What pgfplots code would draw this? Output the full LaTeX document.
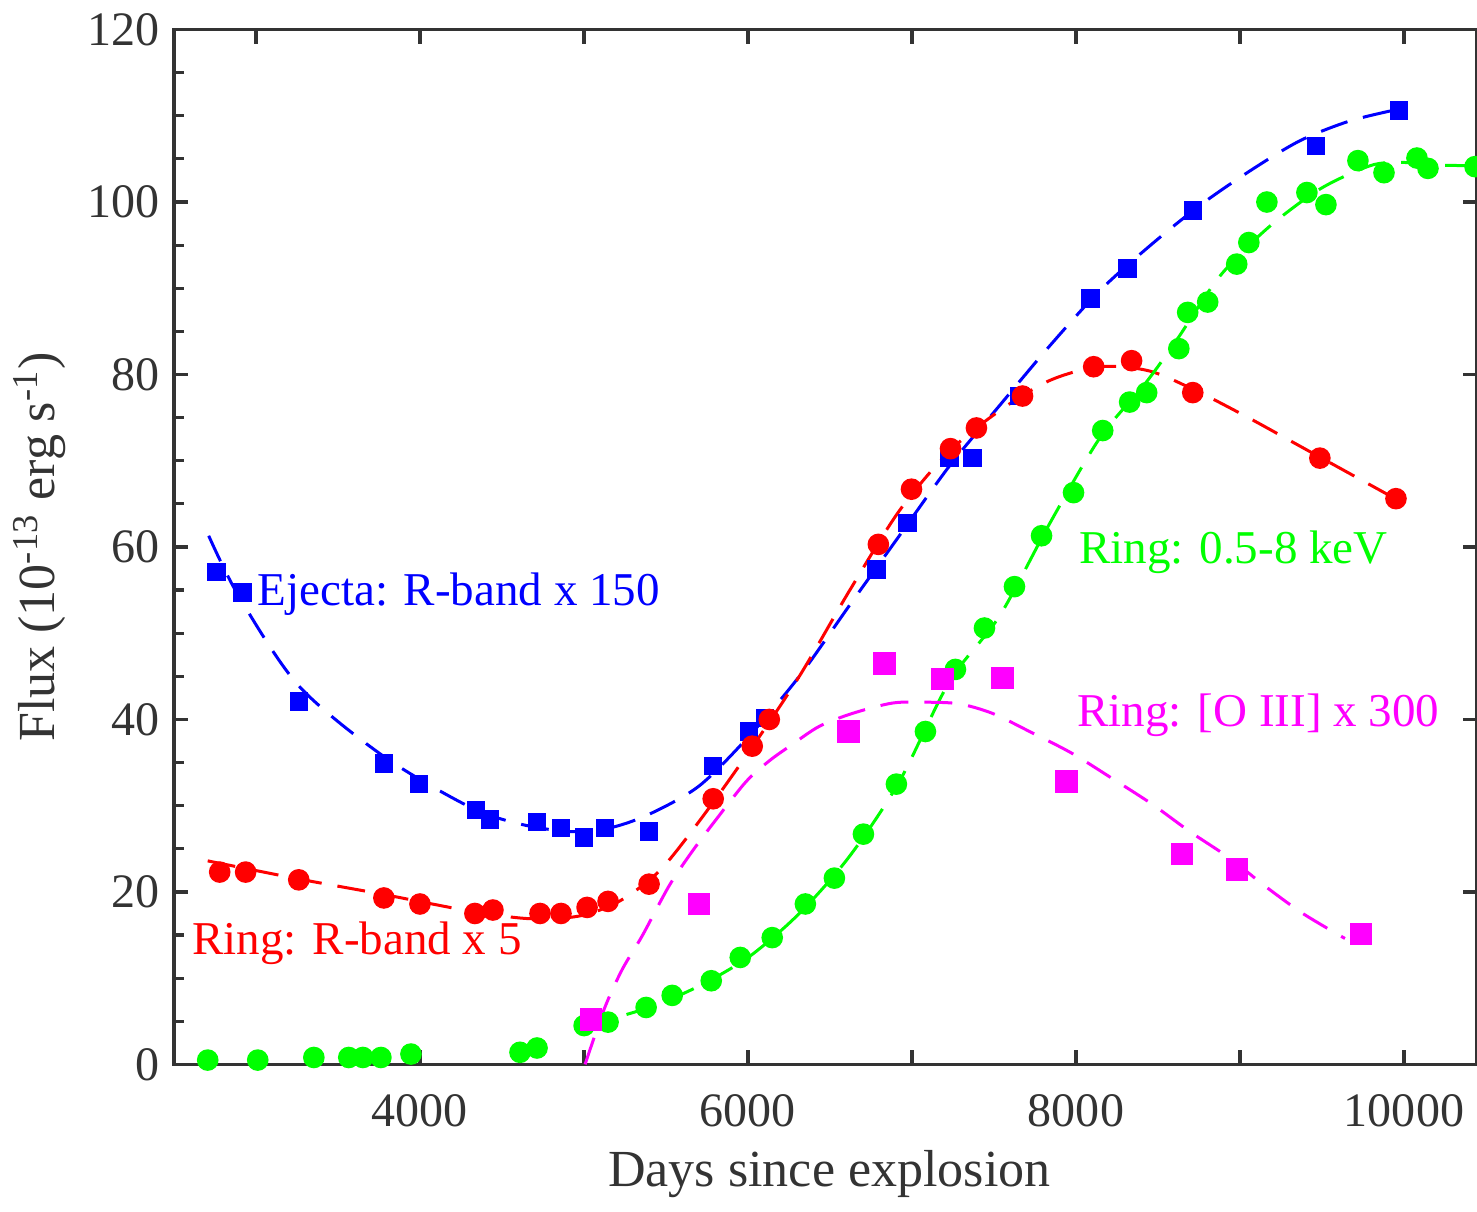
\documentclass[border=0pt]{standalone}
\usepackage{fontspec}
\setmainfont{Liberation Serif}
\usepackage{pgfplots}
\pgfplotsset{compat=1.18}

\definecolor{axgray}{HTML}{333333}
\definecolor{mag}{RGB}{255,0,255}
\definecolor{grn}{RGB}{0,255,0}

\begin{document}
\begin{tikzpicture}[trim axis right]
\begin{axis}[
    width=325.5pt, height=258.5pt, scale only axis,
    xmin=2500, xmax=10445, ymin=0, ymax=120,
    axis line style={axgray, line width=0.9pt},
    every tick/.style={axgray, line width=0.8pt},
    tick align=inside,
    major tick length=3.6pt, minor tick length=2.4pt,
    scaled ticks=false,
    xtick={3000,4000,...,10000},
    xticklabels={,4000,,6000,,8000,,10000},
    ytick={0,20,...,120},
    minor y tick num=3,
    ytick pos=left, xtick pos=both,
    tick label style={font=\fontsize{12}{14}\selectfont, text=axgray},
    /pgf/number format/assume math mode=true,
    xticklabel style={anchor=base, yshift=-15.5pt},
    xlabel={Days since explosion},
    ylabel={Flux (10\textsuperscript{-13} erg s\textsuperscript{-1})},
    every axis x label/.style={at={(axis description cs:0.503,-0.118)}, anchor=base,
        font=\fontsize{13}{15}\selectfont, text=axgray},
    every axis y label/.style={at={(axis description cs:-0.103,0.5)}, rotate=90, anchor=center,
        font=\fontsize{13}{15}\selectfont, text=axgray},
]

% ejecta, R-band x 150
\addplot[blue, line width=0.75pt, dash pattern=on 7pt off 4pt, smooth] coordinates {
(2712,61.3) (2895,54.3) (3261,43.9) (3780,35.7) (4299,29.9) (4604,27.9) (4909,27.0)
(5153,27.4) (5397,29.0) (5703,32.3) (6008,38.1) (6313,45.0) (6618,53.2) (6923,61.3)
(7229,69.4) (7534,76.4) (7839,83.3) (8144,89.7) (8449,94.9) (8755,99.6) (9060,103.6)
(9365,107.1) (9670,109.4) (9975,110.8)};
\addplot[only marks, mark=square*, mark size=2.1pt, mark options={fill=blue, draw=blue}] coordinates {
(2760,57.1) (2919,54.7) (3261,42.1) (3780,34.9) (3993,32.5) (4341,29.5) (4427,28.4)
(4714,28.1) (4860,27.4) (5001,26.3) (5129,27.4) (5397,27.0) (5788,34.6) (6008,38.6)
(6105,40.2) (6783,57.4) (6972,62.8) (7229,70.3) (7369,70.3) (7656,77.5) (8089,88.8)
(8315,92.3) (8712,99.0) (9463,106.5) (9969,110.6)};

% ring, R-band x 5
\addplot[red, line width=0.75pt, dash pattern=on 7pt off 4pt, smooth] coordinates {
(2706,23.6) (3261,21.5) (3780,19.7) (4299,17.8) (4665,16.9) (4970,17.2) (5214,18.9)
(5458,22.4) (5703,28.2) (6008,36.3) (6313,45.0) (6618,54.9) (6923,64.2) (7229,71.1)
(7534,75.8) (7839,79.3) (8144,80.9) (8449,80.4) (8755,77.9) (9060,74.9) (9365,71.7)
(9670,68.5) (9975,65.3)};
\addplot[only marks, mark=*, mark size=2.5pt, mark options={fill=red, draw=red}] coordinates {
(2779,22.3) (2937,22.3) (3261,21.4) (3780,19.3) (4000,18.6) (4335,17.5) (4445,17.9)
(4732,17.5) (4860,17.5) (5019,18.2) (5147,18.9) (5397,20.9) (5788,30.8) (6026,36.9)
(6130,40.0) (6795,60.3) (6997,66.7) (7235,71.4) (7393,73.8) (7674,77.5) (8108,80.9)
(8339,81.6) (8712,77.9) (9487,70.3) (9951,65.6)};

% ring, 0.5-8 keV
\addplot[grn, line width=0.75pt, dash pattern=on 7pt off 4pt, smooth] coordinates {
(5001,4.4) (5397,6.6) (5703,9.1) (6008,12.5) (6313,17.5) (6618,24.1) (6923,32.8)
(7229,44.4) (7534,52.0) (7839,62.7) (8144,72.6) (8420,78.9) (8614,84.0) (8877,91.4)
(9170,97.0) (9487,101.5) (9792,104.2) (9975,104.6) (10177,104.3) (10445,104.2)};
\addplot[only marks, mark=*, mark size=2.5pt, mark options={fill=grn, draw=grn}] coordinates {
(2706,0.5) (3011,0.5) (3353,0.8) (3566,0.8) (3652,0.8) (3762,0.8) (3945,1.2)
(4610,1.4) (4714,1.9) (5001,4.5) (5147,4.9) (5379,6.6) (5538,8.0) (5776,9.7)
(5953,12.4) (6148,14.7) (6350,18.6) (6527,21.6) (6704,26.7) (6905,32.5) (7082,38.6)
(7265,45.8) (7442,50.6) (7625,55.4) (7790,61.3) (7985,66.3) (8163,73.5) (8327,76.8)
(8431,77.9) (8627,83.0) (8681,87.2) (8803,88.4) (8980,92.8) (9054,95.3) (9164,100.0)
(9408,101.1) (9524,99.7) (9719,104.8) (9878,103.4) (10079,105.1) (10146,103.9) (10433,104.1)};

% ring, [O III] x 300
\addplot[mag, line width=0.75pt, dash pattern=on 7pt off 4pt, smooth] coordinates {
(5007,0) (5123,6.4) (5233,11.0) (5355,14.9) (5519,20.7) (5660,24.7) (5806,28.4)
(5989,32.8) (6130,35.2) (6270,37.1) (6435,39.2) (6637,40.7) (6881,41.9) (7088,42.0)
(7290,41.8) (7491,40.7) (7717,38.6) (7973,36.1) (8217,33.2) (8462,30.2) (8694,27.0)
(8938,23.9) (9151,20.7) (9383,17.5) (9640,14.6)};
\addplot[only marks, mark=square*, mark size=2.6pt, mark options={fill=mag, draw=mag}] coordinates {
(5043,5.2) (5703,18.6) (6612,38.6) (6832,46.5) (7186,44.7) (7552,44.8) (7943,32.8)
(8645,24.4) (8980,22.6) (9737,15.1)};

\begin{scope}[every node/.style={anchor=base west, inner sep=0pt, font=\fontsize{11.75}{14}\selectfont}]
\node[text=blue] at (axis cs:3005,53.2) {Ejecta: R-band x 150};
\node[text=red] at (axis cs:2608,12.8) {Ring: R-band x 5};
\node[text=grn] at (axis cs:8016,58.1) {Ring: 0.5-8 keV};
\node[text=mag] at (axis cs:8004,39.2) {Ring: [O III] x 300};
\end{scope}
\end{axis}

\begin{axis}[
    width=325.5pt, height=258.5pt, scale only axis,
    xmin=2500, xmax=10445, ymin=0, ymax=120,
    scaled ticks=false,
    hide x axis,
    axis y line*=right,
    axis line style={-, draw=none},
    every tick/.style={axgray, line width=0.8pt},
    tick align=inside, major tick length=3.6pt,
    ytick={0,20,...,120}, yticklabels={,,,,,,,},
    yticklabel style={inner sep=0pt},
]
\end{axis}
\end{tikzpicture}
\end{document}
